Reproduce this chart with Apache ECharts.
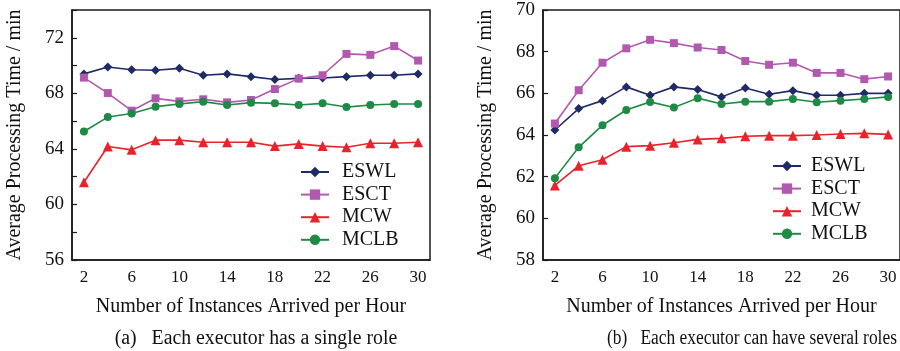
<!DOCTYPE html>
<html><head><meta charset="utf-8">
<script src="https://cdn.jsdelivr.net/npm/echarts@6/dist/echarts.min.js"></script>
<style>html,body{margin:0;padding:0;background:#fff}#c{width:900px;height:351px}</style>
</head><body><div id="c"></div>
<script>
const categories = ['2','4','6','8','10','12','14','16','18','20','22','24','26','28','30'];
const seriesNames = ['ESWL','ESCT','MCW','MCLB'];
// (a) Each executor has a single role
const eswlA = [69.4,69.9,69.7,69.66,69.8,69.3,69.4,69.2,69.0,69.08,69.1,69.2,69.3,69.3,69.4];
const esctA = [69.13,68.02,66.75,67.64,67.42,67.57,67.35,67.52,68.31,69.06,69.3,70.84,70.77,71.4,70.36];
const mcwA  = [61.6,64.17,63.93,64.63,64.63,64.48,64.48,64.48,64.2,64.36,64.2,64.12,64.41,64.41,64.48];
const mclbA = [65.25,66.29,66.55,67.04,67.23,67.4,67.16,67.33,67.28,67.16,67.28,67.01,67.16,67.23,67.23];
// (b) Each executor can have several roles
const eswlB = [64.24,65.27,65.65,66.31,65.91,66.31,66.18,65.83,66.26,65.96,66.13,65.91,65.91,66.0,66.0];
const esctB = [64.55,66.15,67.47,68.16,68.57,68.41,68.2,68.08,67.55,67.37,67.47,66.98,66.98,66.68,66.81];
const mcwB  = [61.58,62.52,62.81,63.44,63.49,63.63,63.79,63.84,63.94,63.97,63.97,64.0,64.05,64.08,64.03];
const mclbB = [61.93,63.41,64.47,65.2,65.59,65.32,65.77,65.49,65.6,65.6,65.73,65.57,65.65,65.73,65.83];
const yTicksA = [56,60,64,68,72];
const xTitle = 'Number of Instances Arrived per Hour';
const yTitle = 'Average Processing Time / min';
const captionA = '(a)   Each executor has a single role';
const captionB = '(b)   Each executor can have several roles';

const FONT = 'Liberation Serif';
const AX = '#1a1a1a';
const colors = ['#1f2a66','#b159ae','#e8232b','#1e8a45'];
const symbols = ['diamond','rect','triangle','circle'];
const symSizes = [9,8,10,8];

function xAx(gi){
  return {
    type:'category', gridIndex:gi, data:categories, boundaryGap:true,
    axisLine:{lineStyle:{color:AX,width:1.5}},
    axisTick:{alignWithLabel:true, inside:true, length:5, interval:0, lineStyle:{color:AX,width:1.2}},
    axisLabel:{interval:1, margin:9, color:'#111', fontFamily:FONT, fontSize:17},
    name:xTitle, nameLocation:'middle', nameGap:37,
    nameTextStyle:{color:'#111', fontFamily:FONT, fontSize:20},
    splitLine:{show:false}
  };
}
function yAx(gi,min,max,labels){
  return {
    type:'value', gridIndex:gi, min:min, max:max, interval:2,
    axisLine:{show:true, lineStyle:{color:AX,width:1.5}},
    axisTick:{show:true, inside:true, length:5, lineStyle:{color:AX,width:1.2}},
    axisLabel:{margin:8, color:'#111', fontFamily:FONT, fontSize:19,
      formatter: v => (labels ? (labels.indexOf(v)>=0 ? String(v) : '') : String(v))},
    name:yTitle, nameLocation:'middle', nameGap:47, nameRotate:90,
    nameTextStyle:{color:'#111', fontFamily:FONT, fontSize:20},
    splitLine:{show:false}
  };
}
function mk(name,data,i,gi){
  return {
    name:name, type:'line', xAxisIndex:gi, yAxisIndex:gi, data:data,
    symbol:symbols[i], symbolSize:symSizes[i], showSymbol:true,
    lineStyle:{color:colors[i], width:1.6},
    itemStyle:{color:colors[i]},
    animation:false
  };
}
const dataA = [eswlA,esctA,mcwA,mclbA];
const dataB = [eswlB,esctB,mcwB,mclbB];
const series = [];
seriesNames.forEach((n,i)=>series.push(mk(n,dataA[i],i,0)));
seriesNames.forEach((n,i)=>series.push(mk(n,dataB[i],i,1)));

function leg(left,top,pad){
  return {
    left:left, top:top, orient:'vertical', data:seriesNames,
    itemWidth:28, itemHeight:13, itemGap:2.6, selectedMode:false,
    textStyle:{fontFamily:FONT, fontSize:20, lineHeight:20, color:'#111', padding:[0,0,0,pad]}
  };
}
function cap(text,x,y,sx){
  return {type:'text', x:x, y:y, scaleX:sx, silent:true,
    style:{text:text, font:'20px "Liberation Serif"', fill:'#111', textAlign:'center', textVerticalAlign:'middle'}};
}

const chart = echarts.init(document.getElementById('c'), null, {renderer:'canvas'});
chart.setOption({
  backgroundColor:'#fff',
  animation:false,
  grid:[
    {left:72, top:10, width:358, height:250, show:true, borderColor:AX, borderWidth:1.5},
    {left:543, top:10, width:358, height:250, show:true, borderColor:AX, borderWidth:1.5}
  ],
  xAxis:[xAx(0), xAx(1)],
  yAxis:[yAx(0,56,74,yTicksA), yAx(1,58,70,null)],
  legend:[leg(295,157,8), leg(767,151,5)],
  graphic:[cap(captionA,256,339,0.99), cap(captionB,752,339,0.87)],
  series:series
});
</script></body></html>
